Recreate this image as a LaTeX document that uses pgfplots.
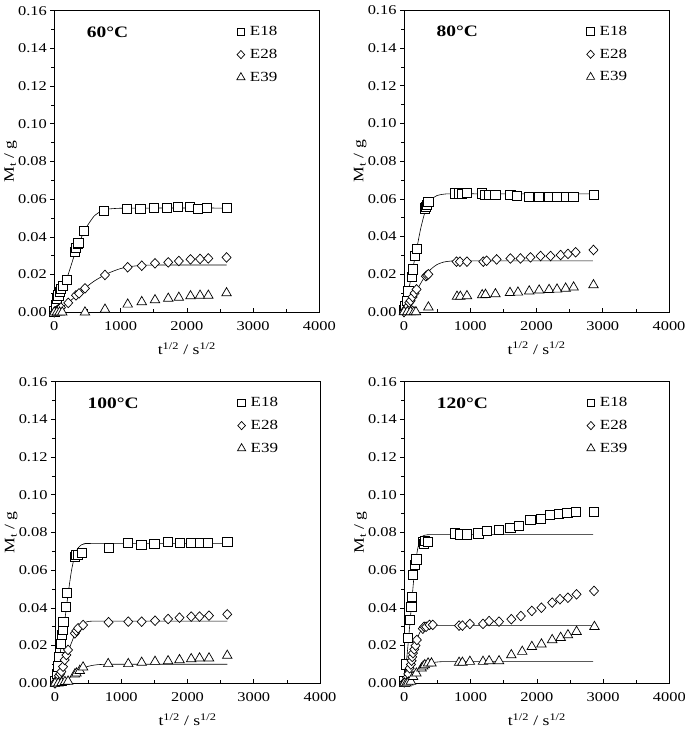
\documentclass[border=0pt]{standalone}
\usepackage{fontspec}
\setmainfont{Liberation Serif}[FakeStretch=1.22]
\usepackage{pgfplots}
\pgfplotsset{compat=1.18}
\tikzset{ttl/.style={anchor=west, font=\fontsize{16}{18}\selectfont\bfseries}}
\pgfplotsset{
  panel/.style={
    scale only axis, width=265bp, height=301.6bp,
    xmin=0, xmax=4000, ymin=0, ymax=0.16,
    xtick={0,1000,2000,3000,4000},
    ytick={0,0.02,0.04,0.06,0.08,0.10,0.12,0.14,0.16},
    minor x tick num=1, minor y tick num=1,
    tick pos=left,
    xtick align=inside, ytick align=outside,
    major tick length=4bp, minor tick length=3bp,
    tick style={black, line width=0.6bp},
    axis line style={line width=0.8bp},
    /pgf/number format/assume math mode=true,
    every tick label/.append style={font=\fontsize{13.5}{15}\selectfont},
    yticklabel style={/pgf/number format/fixed, /pgf/number format/precision=2, /pgf/number format/fixed zerofill},
    xticklabel style={/pgf/number format/1000 sep={}, yshift=-6bp},
    xlabel={t\textsuperscript{1/2} / s\textsuperscript{1/2}},
    ylabel={M\textsubscript{t} / g},
    label style={font=\fontsize{14.5}{16}\selectfont},
    xlabel style={at={(axis description cs:0.5,-0.12)}, anchor=center},
    ylabel style={at={(axis description cs:-0.165,0.5)}, anchor=center},
    legend style={draw=none, fill=none, at={(0.85,0.955)}, anchor=north east,
      font=\fontsize{14}{15}\selectfont, row sep=8bp, inner sep=0pt,
      /tikz/every odd column/.append style={column sep=3bp}},
    legend image post style={scale=0.85, line width=0.9bp},
    legend cell align=left,
  },
  sq/.style={only marks, black, mark=square*, mark size=4.6bp, mark options={fill=white, draw=black, line width=0.7bp}},
  dm/.style={only marks, black, mark=diamond*, mark size=4.8bp, mark options={fill=white, draw=black, line width=0.7bp, xscale=1.25}},
  tr/.style={only marks, black, mark=triangle*, mark size=5.5bp, mark options={fill=white, draw=black, line width=0.7bp}},
  fit/.style={black, line width=0.6bp, no marks, smooth, tension=0.4, forget plot},
}
\begin{document}
\begin{tikzpicture}
\useasboundingbox (0,0) rectangle (685bp,732bp);

% ---------------- 60 C
\begin{axis}[panel, at={(54.3bp,419.7bp)}, anchor=south west]
\addplot[fit] coordinates {(0,0) (100,0.009) (200,0.019) (300,0.030) (350,0.035) (400,0.039) (450,0.043) (500,0.046) (600,0.051) (700,0.0535) (800,0.0547) (1000,0.0552) (1500,0.0553) (2600,0.0553)};
\addplot[fit] coordinates {(0,0) (200,0.0048) (400,0.0110) (600,0.0165) (800,0.0205) (1000,0.0232) (1200,0.0245) (1400,0.0250) (1800,0.0251) (2600,0.0251)};
\addplot[sq] coordinates {(0,0.0005) (20,0.004) (40,0.007) (60,0.009) (80,0.011) (100,0.0125) (130,0.014) (187,0.017) (310,0.032) (327,0.034) (350,0.0365) (363,0.037) (448,0.043) (750,0.054) (1100,0.055) (1300,0.055) (1500,0.0555) (1700,0.0555) (1870,0.056) (2040,0.056) (2170,0.055) (2300,0.0555) (2600,0.0555)};
\addlegendentry{E18}
\addplot[dm] coordinates {(0,0) (20,0.0005) (40,0.001) (60,0.0015) (80,0.002) (100,0.0025) (211,0.005) (327,0.009) (373,0.010) (463,0.0127) (765,0.0198) (1108,0.0239) (1320,0.0247) (1520,0.026) (1720,0.0265) (1880,0.0272) (2056,0.0281) (2200,0.0283) (2325,0.0286) (2600,0.0291)};
\addlegendentry{E28}
\addplot[tr] coordinates {(0,0) (40,0) (80,0) (120,0) (463,0) (765,0.0015) (1108,0.0042) (1320,0.0055) (1520,0.0065) (1720,0.0073) (1880,0.0078) (2056,0.0086) (2200,0.0089) (2325,0.0089) (2600,0.0102)};
\addlegendentry{E39}
\node[ttl] at (rel axis cs:0.11,0.93) {60°C};
\end{axis}

% ---------------- 80 C
\begin{axis}[panel, at={(404bp,420bp)}, anchor=south west]
\addplot[fit] coordinates {(0,0) (50,0.008) (100,0.017) (150,0.026) (200,0.035) (250,0.044) (300,0.051) (350,0.0565) (400,0.0595) (500,0.0618) (600,0.0625) (700,0.0627) (1200,0.0627) (2850,0.0627)};
\addplot[fit] coordinates {(0,0) (100,0.006) (200,0.012) (300,0.018) (400,0.0225) (500,0.0252) (600,0.0265) (700,0.0270) (800,0.0271) (1500,0.0271) (2850,0.0271)};
\addplot[sq] coordinates {(0,0.001) (20,0.003) (40,0.006) (65,0.011) (116,0.0187) (131,0.0226) (167,0.0297) (192,0.0337) (320,0.055) (333,0.0558) (350,0.057) (368,0.0585) (773,0.0629) (823,0.0629) (874,0.0625) (950,0.0632) (1177,0.0629) (1227,0.0623) (1278,0.0623) (1379,0.0623) (1606,0.0623) (1707,0.0615) (1884,0.061) (2035,0.061) (2187,0.061) (2313,0.061) (2439,0.061) (2556,0.061) (2860,0.0622)};
\addlegendentry{E18}
\addplot[dm] coordinates {(0,0) (20,0.001) (40,0.002) (60,0.003) (80,0.005) (100,0.006) (130,0.008) (160,0.010) (190,0.012) (330,0.019) (350,0.0195) (368,0.0200) (793,0.0267) (844,0.0267) (950,0.0267) (1197,0.0267) (1247,0.0272) (1398,0.0279) (1606,0.0284) (1758,0.0284) (1909,0.029) (2061,0.0297) (2212,0.0297) (2364,0.0302) (2475,0.0308) (2591,0.0317) (2860,0.0329)};
\addlegendentry{E28}
\addplot[tr] coordinates {(0,0) (50,0) (100,0) (150,0) (180,0) (368,0.0025) (800,0.0082) (850,0.0082) (950,0.0085) (1180,0.009) (1230,0.0092) (1380,0.0095) (1600,0.0102) (1720,0.0104) (1890,0.011) (2040,0.0115) (2190,0.0118) (2310,0.012) (2440,0.0125) (2560,0.0131) (2860,0.0143)};
\addlegendentry{E39}
\node[ttl] at (rel axis cs:0.11,0.93) {80°C};
\end{axis}

% ---------------- 100 C
\begin{axis}[panel, at={(55bp,48.7bp)}, anchor=south west]
\addplot[fit] coordinates {(0,0) (50,0.010) (100,0.021) (150,0.034) (200,0.048) (250,0.060) (300,0.068) (350,0.0718) (400,0.0735) (450,0.0740) (600,0.0742) (2600,0.0742)};
\addplot[fit] coordinates {(0,0) (100,0.007) (200,0.017) (300,0.026) (350,0.029) (400,0.031) (450,0.0323) (500,0.0328) (600,0.0330) (1000,0.0330) (2600,0.0330)};
\addplot[fit] coordinates {(0,0) (100,0.0007) (200,0.0025) (300,0.0050) (400,0.0075) (500,0.0090) (600,0.0097) (700,0.0100) (1000,0.0101) (2600,0.0101)};
\addplot[sq] coordinates {(0,0.001) (30,0.005) (50,0.009) (65,0.014) (86,0.021) (101,0.0256) (117,0.0286) (127,0.0327) (162,0.0406) (177,0.048) (300,0.067) (320,0.068) (340,0.068) (400,0.069) (808,0.072) (1101,0.0746) (1303,0.0734) (1500,0.0739) (1707,0.0751) (1879,0.0746) (2045,0.0746) (2182,0.0746) (2313,0.0746) (2601,0.0751)};
\addlegendentry{E18}
\addplot[dm] coordinates {(0,0) (20,0.001) (40,0.002) (60,0.004) (80,0.005) (96,0.0062) (121,0.0088) (146,0.0124) (172,0.015) (197,0.0177) (300,0.0265) (323,0.0279) (348,0.0292) (424,0.0309) (808,0.0324) (1106,0.0327) (1308,0.0327) (1510,0.0332) (1707,0.0341) (1879,0.0348) (2056,0.0354) (2182,0.0354) (2325,0.0359) (2600,0.0366)};
\addlegendentry{E28}
\addplot[tr] coordinates {(0,0) (50,0) (100,0.0003) (150,0.0008) (197,0.001) (300,0.0048) (323,0.0053) (374,0.0067) (424,0.0085) (803,0.0103) (1106,0.0103) (1308,0.011) (1510,0.0115) (1707,0.0118) (1879,0.0124) (2056,0.0129) (2182,0.0133) (2325,0.0133) (2600,0.0147)};
\addlegendentry{E39}
\node[ttl] at (rel axis cs:0.11,0.93) {100°C};
\end{axis}

% ---------------- 120 C
\begin{axis}[panel, at={(404.3bp,48.7bp)}, anchor=south west]
\addplot[fit] coordinates {(0,0) (50,0.018) (100,0.038) (150,0.058) (200,0.071) (250,0.077) (300,0.0785) (350,0.0788) (600,0.0789) (2850,0.0789)};
\addplot[fit] coordinates {(0,0) (100,0.011) (200,0.024) (250,0.028) (300,0.0300) (350,0.0305) (500,0.0306) (2850,0.0306)};
\addplot[fit] coordinates {(0,0) (100,0.002) (200,0.0055) (300,0.0090) (400,0.0108) (500,0.0113) (600,0.0115) (1000,0.0115) (2850,0.0115)};
\addplot[sq] coordinates {(0,0.001) (30,0.010) (56,0.0239) (82,0.0336) (106,0.0406) (117,0.046) (132,0.0575) (157,0.0628) (182,0.0658) (283,0.0751) (300,0.074) (309,0.0757) (359,0.0751) (764,0.0796) (839,0.079) (939,0.079) (1117,0.0796) (1248,0.0809) (1425,0.0814) (1602,0.0826) (1727,0.0837) (1904,0.0868) (2056,0.0873) (2197,0.0893) (2333,0.0898) (2460,0.0905) (2586,0.091) (2864,0.091)};
\addlegendentry{E18}
\addplot[dm] coordinates {(0,0.0005) (20,0.001) (40,0.003) (60,0.005) (80,0.008) (100,0.010) (110,0.012) (120,0.014) (130,0.016) (150,0.018) (170,0.020) (190,0.023) (280,0.029) (300,0.030) (330,0.030) (380,0.031) (430,0.031) (827,0.0306) (877,0.0306) (990,0.0315) (1188,0.0315) (1280,0.033) (1430,0.0327) (1615,0.034) (1760,0.0357) (1925,0.0384) (2070,0.0401) (2232,0.0428) (2350,0.0446) (2470,0.0454) (2600,0.0472) (2864,0.049)};
\addlegendentry{E28}
\addplot[tr] coordinates {(0,0) (30,0) (60,0.0005) (100,0.001) (132,0.0035) (182,0.0053) (260,0.008) (285,0.009) (309,0.0097) (359,0.0106) (410,0.0106) (827,0.011) (877,0.011) (990,0.0115) (1188,0.0115) (1280,0.0118) (1430,0.0118) (1615,0.015) (1780,0.0168) (1925,0.0194) (2070,0.0207) (2232,0.023) (2360,0.0242) (2470,0.0256) (2600,0.0274) (2870,0.030)};
\addlegendentry{E39}
\node[ttl] at (rel axis cs:0.11,0.93) {120°C};
\end{axis}
\end{tikzpicture}
\end{document}
